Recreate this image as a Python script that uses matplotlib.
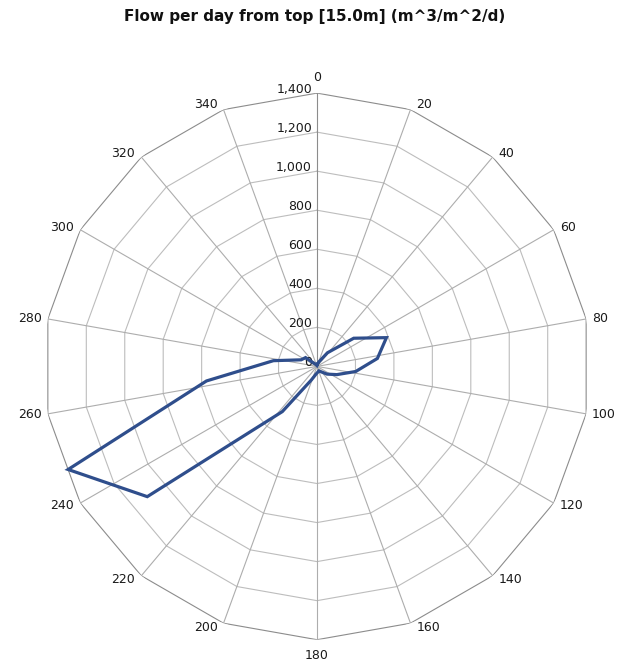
import numpy as np
import matplotlib.pyplot as plt

# grid categories (spokes every 20 degrees)
categories = [0, 20, 40, 60, 80, 100, 120, 140, 160, 180,
              200, 220, 240, 260, 280, 300, 320, 340]
ring_values = [200, 400, 600, 800, 1000, 1200, 1400]

# flow per direction bin (15 degree bins, centred)
bearings = [7.5, 22.5, 37.5, 52.5, 67.5, 82.5, 97.5, 112.5,
            127.5, 142.5, 157.5, 172.5, 187.5, 202.5, 217.5, 232.5,
            247.5, 262.5, 277.5, 292.5, 307.5, 322.5, 337.5, 352.5]
flow = [10, 25, 88, 237, 385, 312, 200, 110,
        65, 35, 25, 30, 40, 75, 292, 1096,
        1380, 571, 225, 88, 74, 15, 8, 5]

fig = plt.figure(figsize=(6.19, 6.68), dpi=100)
ax = fig.add_axes([43.7 / 619, 28.3 / 668, 546.6 / 619, 546.6 / 668], projection='polar')
ax.set_theta_zero_location('N')
ax.set_theta_direction(-1)
ax.set_ylim(0, 1400)
ax.grid(False)
ax.spines['polar'].set_visible(False)
ax.set_xticks([])
ax.set_yticks([])
ax.patch.set_visible(False)

spoke = np.deg2rad(categories)
closed = np.append(spoke, spoke[0])

# polygon rings
for r in ring_values:
    col = '#8c8c8c' if r == 1400 else '#bdbdbd'
    ax.plot(closed, [r] * len(closed), color=col, lw=0.8, zorder=1)

# spokes
for t in spoke:
    col = '#8c8c8c' if t == 0 else '#adadad'
    ax.plot([t, t], [0, 1400], color=col, lw=0.8, zorder=1)

# data
th = np.deg2rad(bearings)
ax.plot(np.append(th, th[0]), flow + flow[:1], color='#2f4e8c', lw=2.3,
        zorder=3, clip_on=False, solid_joinstyle='miter')

px = 72 / 100  # points per pixel
# radial tick labels
for r in [0] + ring_values:
    ax.annotate(f"{r:,}", xy=(0, r), xytext=(-5 * px, 4 * px), textcoords='offset points',
                ha='right', va='center', fontsize=9, color='#1a1a1a', zorder=2)

# category labels
for c in categories:
    a = np.deg2rad(c)
    s, co = np.sin(a), np.cos(a)
    if abs(s) < 0.1:
        ha = 'center'
        va = 'bottom' if co > 0 else 'top'
        off = (0, 9 * px if co > 0 else -9 * px)
    else:
        ha = 'left' if s > 0 else 'right'
        va = 'center'
        off = (6 * px * np.sign(s), 5 * co * px)
    ax.annotate(str(c), xy=(a, 1400), xytext=off, textcoords='offset points',
                ha=ha, va=va, fontsize=9, color='#1a1a1a')

fig.text(315 / 619, 1 - 17 / 668, 'Flow per day from top [15.0m] (m^3/m^2/d)',
         ha='center', va='center', fontsize=11, fontweight='bold', color='#111111')

fig.savefig('out.png', dpi=100)
